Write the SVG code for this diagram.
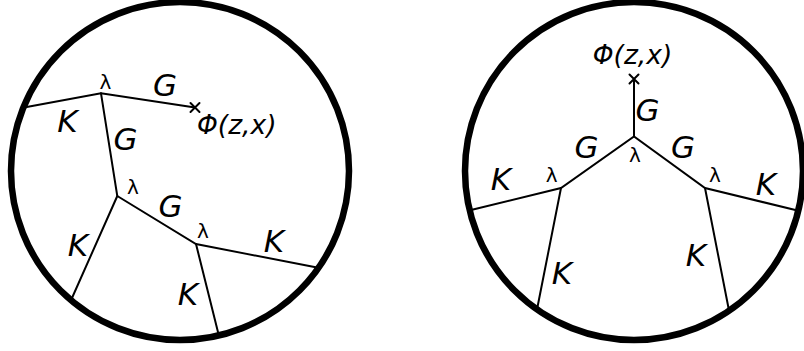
<svg xmlns="http://www.w3.org/2000/svg" width="804" height="351" viewBox="0 0 804 351">
<style>
.disk{fill:none;stroke:#000;stroke-width:6.5}
.edge{fill:none;stroke:#000;stroke-width:2;stroke-linecap:round}
.lab{font-family:"DejaVu Sans",sans-serif;font-style:italic;font-size:31px;fill:#000;text-anchor:middle}
.lam{font-family:"DejaVu Sans",sans-serif;font-size:20px;fill:#000;text-anchor:middle}
.phi{font-family:"DejaVu Sans",sans-serif;font-style:italic;font-size:26.5px;fill:#000}
</style>
<rect width="804" height="351" fill="#fff"/>
<g id="left-disk"><circle class="disk" cx="180" cy="171" r="169"/></g>
<g id="right-disk"><circle class="disk" cx="634" cy="171" r="169"/></g>
<g id="connectors">
<polyline class="edge" points="24,107.5 101,93.3 195,107.5"/>
<polyline class="edge" points="101,93.3 117.3,196 72,298"/>
<polyline class="edge" points="117.3,196 196,244 317,267.5"/>
<line class="edge" x1="196" y1="244" x2="218.6" y2="334.5"/>
<line class="edge" x1="634" y1="136.5" x2="634" y2="79"/>
<polyline class="edge" points="470,210.3 561,188 634,136.5 705,188 798.5,210.8"/>
<line class="edge" x1="561" y1="188" x2="537.2" y2="308.5"/>
<line class="edge" x1="705" y1="188" x2="728.8" y2="309.5"/>
<path class="edge" d="M190.5,103 L199.5,112 M190.5,112 L199.5,103"/>
<path class="edge" d="M629.5,74.5 L638.5,83.5 M629.5,83.5 L638.5,74.5"/>
</g>
<g id="left-labels">
<text class="lam" x="105.5" y="89">λ</text>
<text class="lab" x="165" y="96">G</text>
<text class="lab" x="67.5" y="131.5">K</text>
<text class="phi" x="197" y="134">Φ(z,x)</text>
<text class="lab" x="125.5" y="149.5">G</text>
<text class="lam" x="133" y="193.5">λ</text>
<text class="lab" x="170.5" y="217">G</text>
<text class="lam" x="203" y="238">λ</text>
<text class="lab" x="274" y="252">K</text>
<text class="lab" x="78" y="256">K</text>
<text class="lab" x="188" y="305">K</text>
</g>
<g id="right-labels">
<text class="phi" x="632.5" y="64" text-anchor="middle">Φ(z,x)</text>
<text class="lab" x="647.5" y="121">G</text>
<text class="lab" x="586.5" y="158">G</text>
<text class="lam" x="635" y="161.5">λ</text>
<text class="lab" x="683" y="158">G</text>
<text class="lam" x="551.7" y="181.7">λ</text>
<text class="lam" x="715" y="181.7">λ</text>
<text class="lab" x="501" y="190">K</text>
<text class="lab" x="766" y="195">K</text>
<text class="lab" x="562" y="284">K</text>
<text class="lab" x="696" y="266">K</text>
</g>
</svg>
